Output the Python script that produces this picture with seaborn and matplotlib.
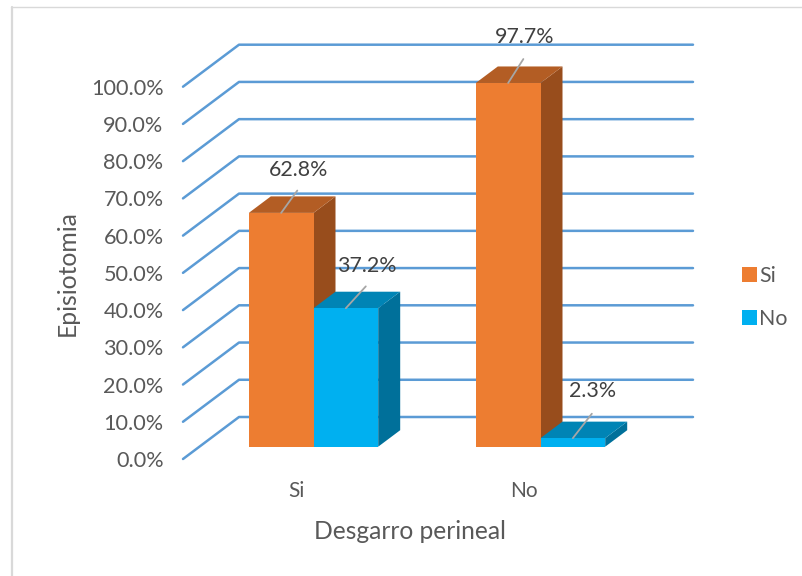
#!/usr/bin/env python
# -*- coding: utf-8 -*-

import matplotlib
matplotlib.use('Agg')

import matplotlib.pyplot as plt
from matplotlib.lines import Line2D
from matplotlib.patches import Polygon
from matplotlib.transforms import Affine2D, IdentityTransform
import pandas as pd
import seaborn as sns

## ============================================================= ##

desgarro = ['Si', 'Si', 'No', 'No']
episiotomia = ['Si', 'No', 'Si', 'No']
porcentaje = [62.8, 37.2, 97.7, 2.3]
ticks = [0, 10, 20, 30, 40, 50, 60, 70, 80, 90, 100]

colors = {'Si': '#ED7D31', 'No': '#00B0F0'}
side_colors = {'Si': '#984D1C', 'No': '#00709A'}
top_colors = {'Si': '#B35D24', 'No': '#0084B5'}

# leader line and label offsets from the top of each bar (pixels)
label_offsets = [(17, 43), (21, 42), (16, 46), (20, 47)]

W, H = 803, 576
GRAY = '#595959'

## ============================================================= ##

sns.set_theme(style='white')
plt.rcParams['font.family'] = ['Lato', 'DejaVu Sans']

df = pd.DataFrame({'desgarro': desgarro, 'episiotomia': episiotomia, 'porcentaje': porcentaje})

fig = plt.figure(figsize=(W / 100, H / 100), dpi=100)
ax = fig.add_axes([183 / W, (H - 459) / H, 454 / W, 372.3 / H])

sns.barplot(data=df, x='desgarro', y='porcentaje', hue='episiotomia',
            order=['Si', 'No'], hue_order=['Si', 'No'], palette=colors,
            width=0.57, saturation=1, gap=0, linewidth=0, ax=ax)

ax.set_xlim(-0.5, 1.5)
ax.set_ylim(0, 100)
sns.despine(ax=ax, left=True, bottom=True)

## ============================================================= ##
## fake 3D: back wall grid, then depth faces on every bar

floor = Affine2D().translate(17, 12.3)
depth_x, depth_y = 22, 16.5

for v in ticks:
    x0, y0 = ax.transData.transform((-0.5, v))
    x1, y1 = ax.transData.transform((1.5, v))
    ax.add_line(Line2D([x0, x0 + 56, x1 + 56], [y0, y0 + 42, y1 + 42],
                       transform=IdentityTransform(), color='#5B9BD5', lw=1.8,
                       clip_on=False, zorder=1, solid_capstyle='round'))

bars = []
for name, container in zip(['Si', 'No'], ax.containers):
    for patch in container.patches:
        bars.append((patch, name))
bars.sort(key=lambda b: b[0].get_x())

z = 3
for k, (patch, name) in enumerate(bars):
    patch.set_transform(ax.transData + floor)
    patch.set_clip_on(False)
    patch.set_zorder(z + 1)
    x_l = patch.get_x()
    x_r = x_l + patch.get_width()
    h = patch.get_height()
    xa, ya = (ax.transData + floor).transform((x_l, 0))
    xb, yb = (ax.transData + floor).transform((x_r, h))
    ax.add_patch(Polygon([(xb, ya), (xb + depth_x, ya + depth_y), (xb + depth_x, yb + depth_y), (xb, yb)],
                         transform=IdentityTransform(), facecolor=side_colors[name], lw=0,
                         clip_on=False, zorder=z))
    ax.add_patch(Polygon([(xa, yb), (xb, yb), (xb + depth_x, yb + depth_y), (xa + depth_x, yb + depth_y)],
                         transform=IdentityTransform(), facecolor=top_colors[name], lw=0,
                         clip_on=False, zorder=z))
    dx, dy = label_offsets[k]
    xc = (xa + xb) / 2
    ax.add_line(Line2D([xc, xc + dx * 0.95], [yb, yb + dy * 0.52],
                       transform=IdentityTransform(), color='#A6A6A6', lw=1.3,
                       clip_on=False, zorder=20))
    ax.text(xc + dx, yb + dy, '%.1f%%' % h, transform=IdentityTransform(), ha='center', va='center',
            fontsize=15.4, color='#404040', zorder=21)
    z += 2

## ============================================================= ##

ax.set_yticks(ticks)
ax.set_yticklabels(['%.1f%%' % t for t in ticks])
ax.tick_params(axis='y', length=0, pad=14, labelsize=15.6, labelcolor=GRAY)
ax.tick_params(axis='x', length=0, pad=15.5, labelsize=15, labelcolor=GRAY)
ax.set_xlabel('Desgarro perineal', fontsize=17.7, color=GRAY, labelpad=14)
ax.set_ylabel('Episiotomia', fontsize=17.8, color=GRAY, labelpad=9)

sns.move_legend(ax, loc='center left', bbox_to_anchor=(723 / W, (H - 297.5) / H),
                bbox_transform=fig.transFigure, title=None, frameon=False,
                fontsize=15.4, handlelength=0.7, handleheight=0.7,
                handletextpad=0.1, labelspacing=1.07, labelcolor=GRAY)

# thin frame left over from the pasted chart
fig.add_artist(Line2D([12 / W, 12 / W], [0, (H - 7) / H], color='#D9D9D9', lw=1.6))
fig.add_artist(Line2D([11 / W, 1], [(H - 7.3) / H, (H - 7.3) / H], color='#D9D9D9', lw=1))

fig.savefig('out.png', dpi=100)
